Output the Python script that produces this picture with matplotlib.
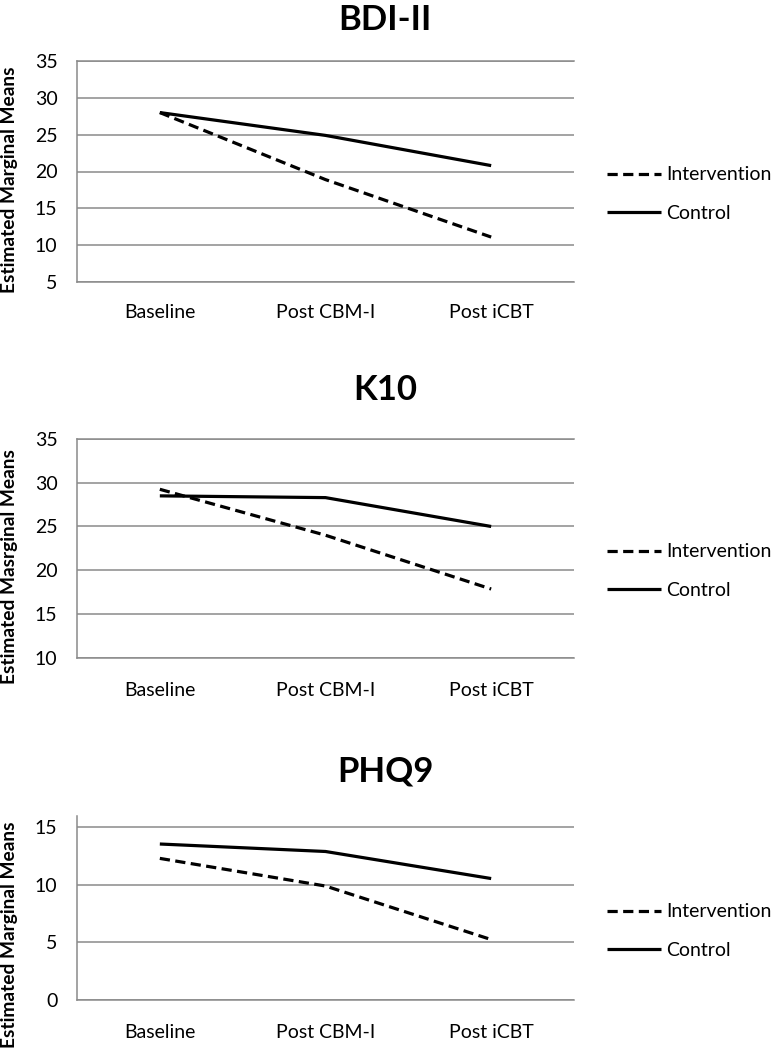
import matplotlib
matplotlib.use("Agg")
import matplotlib.pyplot as plt

plt.rcParams['font.family'] = ['Lato', 'DejaVu Sans']

categories = ["Baseline", "Post CBM-I", "Post iCBT"]

titles = ["BDI-II", "K10", "PHQ9"]
ylabels = ["Estimated Marginal Means", "Estimated Masrginal Means", "Estimated Marginal Means"]

bdi_intervention = [28.0, 18.9, 11.1]
bdi_control = [28.0, 24.9, 20.8]
k10_intervention = [29.25, 24.0, 17.85]
k10_control = [28.5, 28.3, 25.0]
phq_intervention = [12.3, 9.9, 5.25]
phq_control = [13.55, 12.9, 10.55]

yticks = [[5, 10, 15, 20, 25, 30, 35], [10, 15, 20, 25, 30, 35], [0, 5, 10, 15]]
ylims = [(5, 35), (10, 35), (0, 16)]

W, H = 773, 1056
fig = plt.figure(figsize=(W / 100, H / 100), dpi=100)

# axes rectangles in pixels: left, top, right, bottom
rects = [(77, 61, 574, 282), (77, 439, 574, 657.7), (77, 815.8, 574, 1000)]
title_y = [20, 390, 772]
ylabel_y = [180, 567, 935]
legend_y = [194, 571, 931]
xlabel_pad = [16, 17.5, 17]

grid_color = "#8a8a8a"
series = [(bdi_intervention, bdi_control), (k10_intervention, k10_control), (phq_intervention, phq_control)]

for i in range(3):
    l, t, r, b = rects[i]
    ax = fig.add_axes([l / W, 1 - b / H, (r - l) / W, (b - t) / H])
    inter, ctrl = series[i]
    x = range(len(categories))
    hi, = ax.plot(x, inter, color="black", lw=2.3, linestyle=(0, (3.2, 1.7)),
                  solid_capstyle="butt", dash_capstyle="butt", label="Intervention")
    hc, = ax.plot(x, ctrl, color="black", lw=2.3, label="Control", solid_capstyle="butt")
    ax.set_xlim(-0.5, 2.5)
    ax.set_ylim(*ylims[i])
    ax.set_yticks(yticks[i])
    ax.set_xticks(list(x))
    ax.set_xticklabels(categories)
    ax.yaxis.grid(True, color=grid_color, lw=1.1)
    ax.set_axisbelow(True)
    ax.tick_params(axis="both", length=0, labelsize=14, colors="black")
    ax.tick_params(axis="x", pad=xlabel_pad[i])
    ax.tick_params(axis="y", pad=14)
    ax.spines["right"].set_visible(False)
    ax.spines["top"].set_visible(i < 2)
    for s in ["left", "bottom", "top"]:
        ax.spines[s].set_color(grid_color)
        ax.spines[s].set_linewidth(1.1)
    fig.text(385 / W, 1 - title_y[i] / H, titles[i], ha="center", va="center",
             fontsize=25, fontweight="bold")
    fig.text(10 / W, 1 - ylabel_y[i] / H, ylabels[i], ha="center", va="center",
             rotation=90, fontsize=13.8, fontweight="bold")
    fig.legend(handles=[hi, hc], loc="center left",
               bbox_to_anchor=(607 / W, 1 - legend_y[i] / H), frameon=False,
               fontsize=14, handlelength=2.8, handletextpad=0.26,
               labelspacing=1.1, borderpad=0, borderaxespad=0)

fig.savefig("out.png", dpi=100)
